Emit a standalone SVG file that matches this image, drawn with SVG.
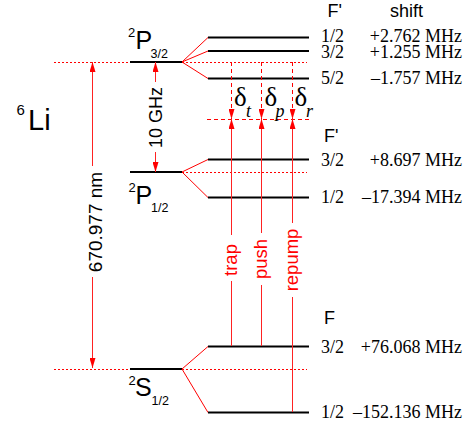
<svg xmlns="http://www.w3.org/2000/svg" width="472" height="426" viewBox="0 0 472 426">
<style>
.lvl{stroke:#000;stroke-width:2;fill:none}
.fan{stroke:#f00;stroke-width:1;fill:none}
.dot{stroke:#f00;stroke-width:1;stroke-dasharray:2,2;fill:none}
.dash{stroke:#f00;stroke-width:1;stroke-dasharray:4,3;fill:none}
.red{stroke:#f22;stroke-width:1;fill:none}
.sans{font-family:"Liberation Sans",Arial,sans-serif;fill:#000}
.serif{font-family:"Liberation Serif","Times New Roman",serif;fill:#000;font-size:18px}
.rl{font-family:"Liberation Sans",Arial,sans-serif;fill:#f00;font-size:18.5px}
.dl{font-family:"Liberation Serif","Times New Roman",serif;fill:#000;font-size:27px}
.sub{font-size:18px;font-style:italic}
</style>
<defs>
<marker id="ah" viewBox="0 0 10 6" refX="10" refY="3" markerWidth="10" markerHeight="6" markerUnits="userSpaceOnUse" orient="auto">
<path d="M0,0 L10,3 L0,6 z" fill="#f00"/>
</marker>
</defs>
<rect width="472" height="426" fill="#fff"/>

<g id="guides">
<line class="dot" x1="54" y1="62.5" x2="130" y2="62.5"/>
<line class="dot" x1="182" y1="62.5" x2="307" y2="62.5"/>
<line class="dot" x1="182" y1="172.5" x2="307" y2="172.5"/>
<line class="dot" x1="54" y1="369.5" x2="130" y2="369.5"/>
<line class="dot" x1="182" y1="369.5" x2="307" y2="369.5"/>
<line class="dash" x1="207" y1="119.5" x2="312" y2="119.5"/>
</g>

<g id="title">
<text class="sans" x="16.5" y="114.5" font-size="15">6</text>
<text class="sans" x="28" y="130" font-size="29">Li</text>
</g>

<g id="P32">
<line class="lvl" x1="130" y1="62" x2="182" y2="62"/>
<text class="sans" x="128" y="37" font-size="13">2</text>
<text class="sans" x="135.5" y="49" font-size="25">P</text>
<text class="sans" x="150.5" y="58" font-size="12.5">3/2</text>
</g>

<g id="P12">
<line class="lvl" x1="130" y1="172" x2="182" y2="172"/>
<text class="sans" x="128.5" y="192" font-size="13">2</text>
<text class="sans" x="135.5" y="204" font-size="25">P</text>
<text class="sans" x="151" y="212" font-size="12.5">1/2</text>
</g>

<g id="S12">
<line class="lvl" x1="130" y1="369" x2="182" y2="369"/>
<text class="sans" x="128.5" y="385" font-size="13">2</text>
<text class="sans" x="135" y="396" font-size="25">S</text>
<text class="sans" x="151.5" y="405" font-size="12.5">1/2</text>
</g>

<g id="P32hf">
<path class="fan" d="M182,62 L208,37.5 M182,62 L208,51 M182,62 L208,78.5"/>
<line class="lvl" x1="208" y1="37.5" x2="309" y2="37.5"/>
<line class="lvl" x1="208" y1="51" x2="309" y2="51"/>
<line class="lvl" x1="208" y1="78.5" x2="309" y2="78.5"/>
<text class="sans" x="327.5" y="16.7" font-size="18">F'</text>
<text class="sans" x="390" y="16.7" font-size="18">shift</text>
<text class="serif" x="321" y="41.7">1/2</text>
<text class="serif" x="462" y="41.7" text-anchor="end">+2.762 MHz</text>
<text class="serif" x="321" y="57.5">3/2</text>
<text class="serif" x="462" y="57.5" text-anchor="end">+1.255 MHz</text>
<text class="serif" x="321" y="84">5/2</text>
<text class="serif" x="462" y="84" text-anchor="end">–1.757 MHz</text>
</g>

<g id="P12hf">
<path class="fan" d="M182,172 L208,159.5 M182,172 L208,197.5"/>
<line class="lvl" x1="208" y1="159.5" x2="309" y2="159.5"/>
<line class="lvl" x1="208" y1="197.5" x2="309" y2="197.5"/>
<text class="sans" x="324" y="141.7" font-size="18">F'</text>
<text class="serif" x="321" y="165.7">3/2</text>
<text class="serif" x="462" y="165.7" text-anchor="end">+8.697 MHz</text>
<text class="serif" x="321" y="203.3">1/2</text>
<text class="serif" x="462" y="203.3" text-anchor="end">–17.394 MHz</text>
</g>

<g id="S12hf">
<path class="fan" d="M182,369 L208,346.5 M182,369 L208,412.5"/>
<line class="lvl" x1="208" y1="346.5" x2="309" y2="346.5"/>
<line class="lvl" x1="208" y1="412.5" x2="309" y2="412.5"/>
<text class="sans" x="324" y="324.3" font-size="18">F</text>
<text class="serif" x="321" y="352.7">3/2</text>
<text class="serif" x="462" y="352.7" text-anchor="end">+76.068 MHz</text>
<text class="serif" x="321" y="418.3">1/2</text>
<text class="serif" x="462" y="418.3" text-anchor="end">–152.136 MHz</text>
</g>

<g id="connectors">
<line class="red" x1="155.5" y1="82" x2="155.5" y2="62" marker-end="url(#ah)"/>
<line class="red" x1="155.5" y1="152" x2="155.5" y2="172" marker-end="url(#ah)"/>
<line class="red" x1="92.5" y1="166" x2="92.5" y2="62" marker-end="url(#ah)"/>
<line class="red" x1="92.5" y1="277" x2="92.5" y2="368" marker-end="url(#ah)"/>

<line class="dash" x1="231.5" y1="62" x2="231.5" y2="119" marker-end="url(#ah)"/>
<line class="dash" x1="261.5" y1="62" x2="261.5" y2="119" marker-end="url(#ah)"/>
<line class="dash" x1="292.5" y1="62" x2="292.5" y2="119" marker-end="url(#ah)"/>

<line class="red" x1="231.5" y1="235" x2="231.5" y2="119" marker-end="url(#ah)"/>
<line class="red" x1="231.5" y1="281" x2="231.5" y2="346"/>
<line class="red" x1="261.5" y1="233" x2="261.5" y2="119" marker-end="url(#ah)"/>
<line class="red" x1="261.5" y1="285" x2="261.5" y2="346"/>
<line class="red" x1="292.5" y1="223" x2="292.5" y2="119" marker-end="url(#ah)"/>
<line class="red" x1="292.5" y1="297" x2="292.5" y2="412"/>
</g>

<g id="labels">
<text class="sans" font-size="18" text-anchor="middle" transform="translate(162,117.5) rotate(-90)">10 GHz</text>
<text class="sans" font-size="19" text-anchor="middle" transform="translate(101.5,222) rotate(-90)">670.977 nm</text>
<text class="rl" text-anchor="middle" transform="translate(236.5,260) rotate(-90)">trap</text>
<text class="rl" text-anchor="middle" transform="translate(266.5,259) rotate(-90)">push</text>
<text class="rl" text-anchor="middle" transform="translate(297.5,260) rotate(-90)">repump</text>
<text class="dl" x="234" y="106">δ<tspan class="sub" x="246" y="117">t</tspan></text>
<text class="dl" x="264.5" y="106">δ<tspan class="sub" x="275.5" y="117">p</tspan></text>
<text class="dl" x="294.5" y="106">δ<tspan class="sub" x="306" y="117">r</tspan></text>
</g>
</svg>
